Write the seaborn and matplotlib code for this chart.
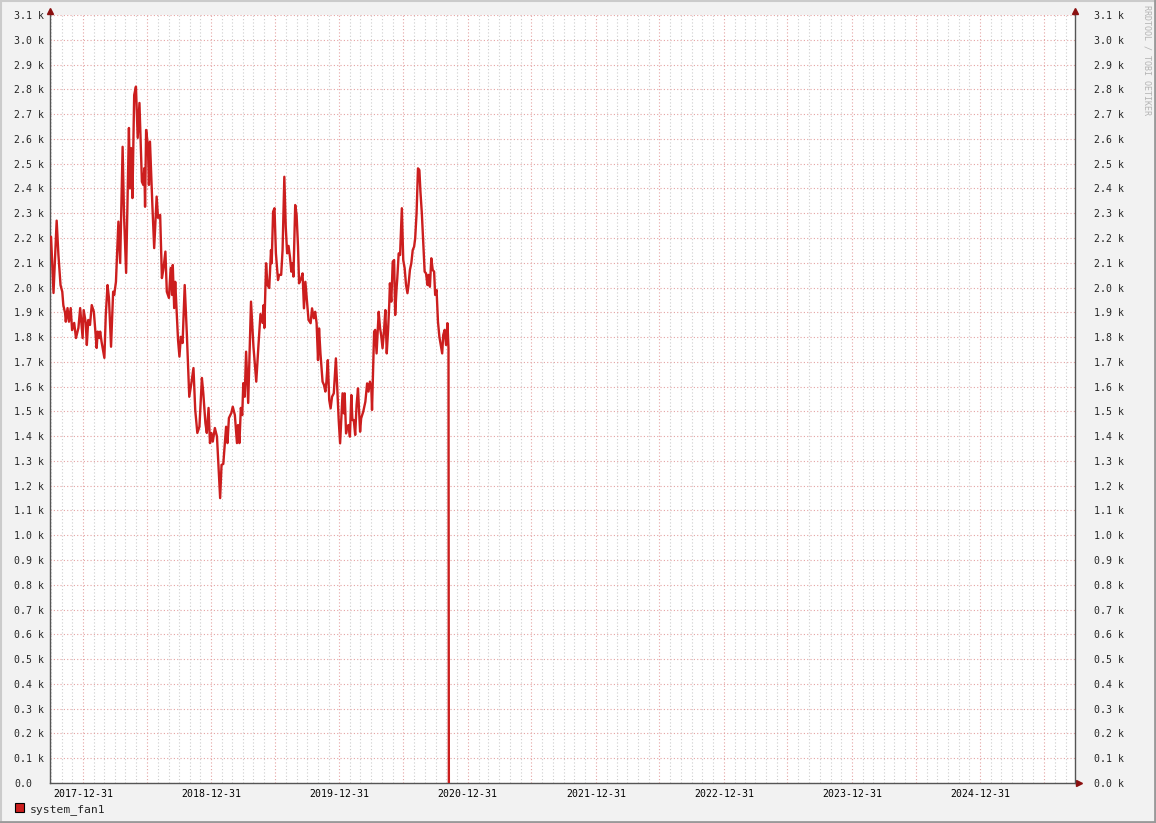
import matplotlib
matplotlib.use("Agg")
import matplotlib.pyplot as plt
import matplotlib.dates as mdates
from matplotlib.ticker import FixedLocator, FuncFormatter
from matplotlib.transforms import offset_copy
from matplotlib.lines import Line2D
from matplotlib.patches import Patch
import seaborn as sns
import pandas as pd

# ---------------- data ----------------
series_name = "system_fan1"

dates = [
    "2017-10-01", "2017-10-08", "2017-10-17", "2017-10-22", "2017-10-26", "2017-10-28",
    "2017-11-02", "2017-11-05", "2017-11-10", "2017-11-12", "2017-11-17", "2017-11-21",
    "2017-11-26", "2017-11-30", "2017-12-06", "2017-12-11", "2017-12-18", "2017-12-23",
    "2017-12-30", "2018-01-02", "2018-01-08", "2018-01-11", "2018-01-15", "2018-01-20",
    "2018-01-25", "2018-01-31", "2018-02-05", "2018-02-08", "2018-02-11", "2018-02-16",
    "2018-02-18", "2018-02-22", "2018-03-02", "2018-03-06", "2018-03-11", "2018-03-15",
    "2018-03-21", "2018-03-27", "2018-03-30", "2018-04-04", "2018-04-11", "2018-04-16",
    "2018-04-23", "2018-04-27", "2018-05-03", "2018-05-11", "2018-05-14", "2018-05-17",
    "2018-05-21", "2018-05-26", "2018-05-31", "2018-06-05", "2018-06-10", "2018-06-17",
    "2018-06-21", "2018-06-24", "2018-06-26", "2018-06-29", "2018-07-04", "2018-07-07",
    "2018-07-10", "2018-07-17", "2018-07-22", "2018-07-29", "2018-08-02", "2018-08-08",
    "2018-08-13", "2018-08-17", "2018-08-23", "2018-08-27", "2018-09-02", "2018-09-07",
    "2018-09-11", "2018-09-13", "2018-09-17", "2018-09-20", "2018-09-28", "2018-10-02",
    "2018-10-06", "2018-10-11", "2018-10-17", "2018-10-23", "2018-10-30", "2018-11-05",
    "2018-11-11", "2018-11-16", "2018-11-22", "2018-11-28", "2018-12-05", "2018-12-09",
    "2018-12-15", "2018-12-19", "2018-12-24", "2018-12-28", "2019-01-01", "2019-01-05",
    "2019-01-11", "2019-01-17", "2019-01-26", "2019-01-30", "2019-02-04", "2019-02-12",
    "2019-02-16", "2019-02-20", "2019-02-27", "2019-03-03", "2019-03-09", "2019-03-15",
    "2019-03-18", "2019-03-22", "2019-03-26", "2019-03-30", "2019-04-02", "2019-04-06",
    "2019-04-10", "2019-04-16", "2019-04-24", "2019-05-01", "2019-05-09", "2019-05-15",
    "2019-05-21", "2019-05-27", "2019-05-30", "2019-06-01", "2019-06-06", "2019-06-10",
    "2019-06-15", "2019-06-20", "2019-06-22", "2019-06-26", "2019-06-30", "2019-07-04",
    "2019-07-10", "2019-07-13", "2019-07-19", "2019-07-23", "2019-07-28", "2019-08-01",
    "2019-08-05", "2019-08-09", "2019-08-13", "2019-08-17", "2019-08-20", "2019-08-23",
    "2019-08-28", "2019-09-01", "2019-09-05", "2019-09-08", "2019-09-14", "2019-09-18",
    "2019-09-22", "2019-09-26", "2019-10-01", "2019-10-05", "2019-10-11", "2019-10-15",
    "2019-10-20", "2019-10-24", "2019-10-28", "2019-11-01", "2019-11-04", "2019-11-08",
    "2019-11-14", "2019-11-18", "2019-11-22", "2019-11-25", "2019-11-29", "2019-12-03",
    "2019-12-07", "2019-12-11", "2019-12-16", "2019-12-22", "2019-12-26", "2019-12-30",
    "2020-01-03", "2020-01-06", "2020-01-10", "2020-01-14", "2020-01-16", "2020-01-20",
    "2020-01-23", "2020-01-27", "2020-01-31", "2020-02-04", "2020-02-07", "2020-02-11",
    "2020-02-15", "2020-02-19", "2020-02-23", "2020-02-29", "2020-03-03", "2020-03-09",
    "2020-03-15", "2020-03-20", "2020-03-24", "2020-03-28", "2020-04-01", "2020-04-03",
    "2020-04-09", "2020-04-12", "2020-04-16", "2020-04-22", "2020-04-26", "2020-04-29",
    "2020-05-03", "2020-05-07", "2020-05-11", "2020-05-15", "2020-05-19", "2020-05-22",
    "2020-05-24", "2020-05-28", "2020-06-01", "2020-06-05", "2020-06-08", "2020-06-12",
    "2020-06-14", "2020-06-18", "2020-06-22", "2020-06-23", "2020-06-27", "2020-07-01",
    "2020-07-05", "2020-07-09", "2020-07-13", "2020-07-16", "2020-07-20", "2020-07-24",
    "2020-07-28", "2020-08-01", "2020-08-04", "2020-08-08", "2020-08-12", "2020-08-16",
    "2020-08-19", "2020-08-23", "2020-08-27", "2020-08-31", "2020-09-04", "2020-09-08",
    "2020-09-11", "2020-09-15", "2020-09-19", "2020-09-23", "2020-09-27", "2020-09-30",
    "2020-10-04", "2020-10-08", "2020-10-12", "2020-10-16", "2020-10-20", "2020-10-23",
    "2020-10-27", "2020-10-31", "2020-11-04", "2020-11-07", "2020-11-08",
]

fan_rpm = [
    2205, 1978, 2270, 2131, 2050, 2010,
    1983, 1929, 1897, 1862, 1917, 1862,
    1917, 1828, 1857, 1796, 1837, 1917,
    1796, 1909, 1857, 1768, 1869, 1849,
    1929, 1902, 1808, 1756, 1822, 1796,
    1822, 1781, 1716, 1889, 2010, 1958,
    1761, 1983, 1970, 2023, 2266, 2099,
    2568, 2293, 2059, 2644, 2400, 2563,
    2361, 2777, 2811, 2604, 2745, 2427,
    2414, 2482, 2326, 2636, 2575, 2414,
    2589, 2326, 2159, 2367, 2281, 2293,
    2038, 2071, 2145, 1983, 1958, 2079,
    1970, 2091, 1917, 2023, 1788, 1721,
    1801, 1776, 2010, 1816, 1559, 1614,
    1675, 1506, 1413, 1438, 1635, 1574,
    1453, 1413, 1514, 1372, 1413, 1378,
    1433, 1398, 1150, 1284, 1288, 1438,
    1372, 1473, 1494, 1519, 1485, 1372,
    1445, 1372, 1514, 1485, 1614, 1559,
    1741, 1534, 1943, 1761, 1620, 1761,
    1893, 1857, 1929, 1837, 2098, 2010,
    1998, 2151, 2098, 2306, 2320, 2138,
    2030, 2051, 2051, 2151, 2447, 2246,
    2138, 2168, 2124, 2064, 2098, 2044,
    2333, 2293, 2165, 2017, 2037, 2057,
    1916, 2023, 1936, 1869, 1856, 1916,
    1876, 1902, 1856, 1707, 1835, 1734,
    1620, 1607, 1580, 1620, 1707, 1546,
    1512, 1559, 1573, 1714, 1586, 1465,
    1371, 1458, 1573, 1492, 1573, 1411,
    1438, 1445, 1398, 1566, 1465, 1465,
    1405, 1526, 1593, 1418, 1472, 1499,
    1539, 1613, 1580, 1620, 1593, 1506,
    1822, 1829, 1734, 1902, 1835, 1808,
    1755, 1822, 1909, 1734, 1835, 1929,
    2017, 1943, 2104, 2111, 1889, 1997,
    2037, 2138, 2131, 2172, 2320, 2111,
    2078, 2010, 1977, 2010, 2071, 2098,
    2151, 2165, 2198, 2300, 2481, 2474,
    2387, 2300, 2185, 2064, 2057, 2010,
    2051, 2003, 2118, 2071, 2064, 1970,
    1990, 1862, 1801, 1768, 1734, 1808,
    1829, 1768, 1856, 1755, 0,
]

x_range = ["2017-09-28", "2025-09-28"]
y_ticks = [v * 100 for v in range(0, 32)]

# ---------------- style ----------------
W, H = 1156, 823
BG = "#F2F2F2"
LINE = "#CC1E1E"
MGRID = "#E4A3A3"
GRID = "#CDCDCD"
AXIS = "#555555"
ARROW = "#8B1010"

sns.set_style("white")
plt.rcParams["font.family"] = ["DejaVu Sans Mono"]

fig = plt.figure(figsize=(W / 100, H / 100), dpi=100, facecolor=BG)
ax = fig.add_axes([50 / W, (H - 783) / H, 1025 / W, 768 / H])
ax.set_facecolor("white")

df = pd.DataFrame({"date": pd.to_datetime(dates), "rpm": fan_rpm})
sns.lineplot(data=df, x="date", y="rpm", ax=ax, color=LINE, linewidth=1.7,
             estimator=None, sort=False, legend=False, zorder=5)

ax.set_xlim(pd.Timestamp(x_range[0]), pd.Timestamp(x_range[1]))
ax.set_ylim(0, 3100)
ax.set_xlabel("")
ax.set_ylabel("")

# x axis: half-year major grid, monthly minor grid, yearly labels
ax.xaxis.set_major_locator(mdates.MonthLocator(bymonth=(1, 7)))
ax.xaxis.set_minor_locator(mdates.MonthLocator())


def xfmt(v, pos):
    d = mdates.num2date(v)
    if d.month == 1:
        return (pd.Timestamp(d.date()) - pd.Timedelta(days=1)).strftime("%Y-%m-%d")
    return ""


ax.xaxis.set_major_formatter(FuncFormatter(xfmt))
ax.grid(which="minor", axis="x", color=GRID, linestyle=(0, (1, 2)), linewidth=0.8)
ax.grid(which="major", axis="x", color=MGRID, linestyle=(0, (1, 2)), linewidth=0.8)
ax.tick_params(axis="x", which="major", length=2.5, width=0.8, color="#B05050",
               pad=2, labelsize=7.1, labelcolor="black")
ax.tick_params(axis="x", which="minor", length=0)

# y axis
ax.yaxis.set_major_locator(FixedLocator(y_ticks))
ax.yaxis.set_major_formatter(FuncFormatter(
    lambda v, p: "0.0" if v == 0 else f"{v / 1000:.1f} k"))
ax.grid(which="major", axis="y", color=MGRID, linestyle=(0, (1, 2)), linewidth=0.8)
ax.tick_params(axis="y", which="major", length=0, pad=36 * 0.72, labelsize=7.1)
for lab in ax.get_yticklabels():
    lab.set_horizontalalignment("left")

ax2 = ax.twinx()
ax2.set_ylim(ax.get_ylim())
ax2.yaxis.set_major_locator(FixedLocator(y_ticks))
ax2.yaxis.set_major_formatter(FuncFormatter(lambda v, p: f"{v / 1000:.1f} k"))
ax2.tick_params(axis="y", which="major", length=0, pad=19 * 0.72, labelsize=7.1)
ax2.grid(False)

for a in (ax, ax2):
    a.spines["top"].set_visible(False)
    for s in ("left", "right", "bottom"):
        a.spines[s].set_color(AXIS)
        a.spines[s].set_linewidth(1.0)
ax2.spines["bottom"].set_visible(False)
ax2.spines["left"].set_visible(False)
ax.spines["right"].set_visible(False)
ax.set_axisbelow(True)

# arrows at the axis ends
up = offset_copy(ax.transAxes, fig=fig, x=0, y=4, units="dots")
ax.plot([0, 1], [1, 1], transform=up, linestyle="none", marker="^", markersize=4.5,
        color=ARROW, clip_on=False, zorder=10)
rt = offset_copy(ax.transAxes, fig=fig, x=4, y=0, units="dots")
ax.plot([1], [0], transform=rt, linestyle="none", marker=">", markersize=4.5,
        color=ARROW, clip_on=False, zorder=10)

# legend
handle = Patch(facecolor=LINE, edgecolor="black", linewidth=0.8, label=series_name)
fig.legend(handles=[handle], loc="center left", bbox_to_anchor=(15 / W, (H - 809) / H),
           frameon=False, fontsize=8.2, handlelength=0.8, handleheight=0.8,
           handletextpad=0.5, borderpad=0, borderaxespad=0)

# watermark
fig.text(1147 / W, 1 - 5 / H, "RRDTOOL / TOBI OETIKER", rotation=270, ha="center",
         va="top", color="#B4B4B4", fontsize=6.0)

# image frame (light top/left, dark bottom/right)
fig.add_artist(Line2D([0, 1], [1 - 0.5 / H, 1 - 0.5 / H], transform=fig.transFigure,
                      color="#CBCBCB", linewidth=1.5))
fig.add_artist(Line2D([0.5 / W, 0.5 / W], [0, 1], transform=fig.transFigure,
                      color="#CBCBCB", linewidth=1.5))
fig.add_artist(Line2D([0, 1], [1 / H, 1 / H], transform=fig.transFigure,
                      color="#999999", linewidth=2))
fig.add_artist(Line2D([1 - 1 / W, 1 - 1 / W], [0, 1], transform=fig.transFigure,
                      color="#999999", linewidth=2))

fig.savefig("out.png", dpi=100, facecolor=BG)
